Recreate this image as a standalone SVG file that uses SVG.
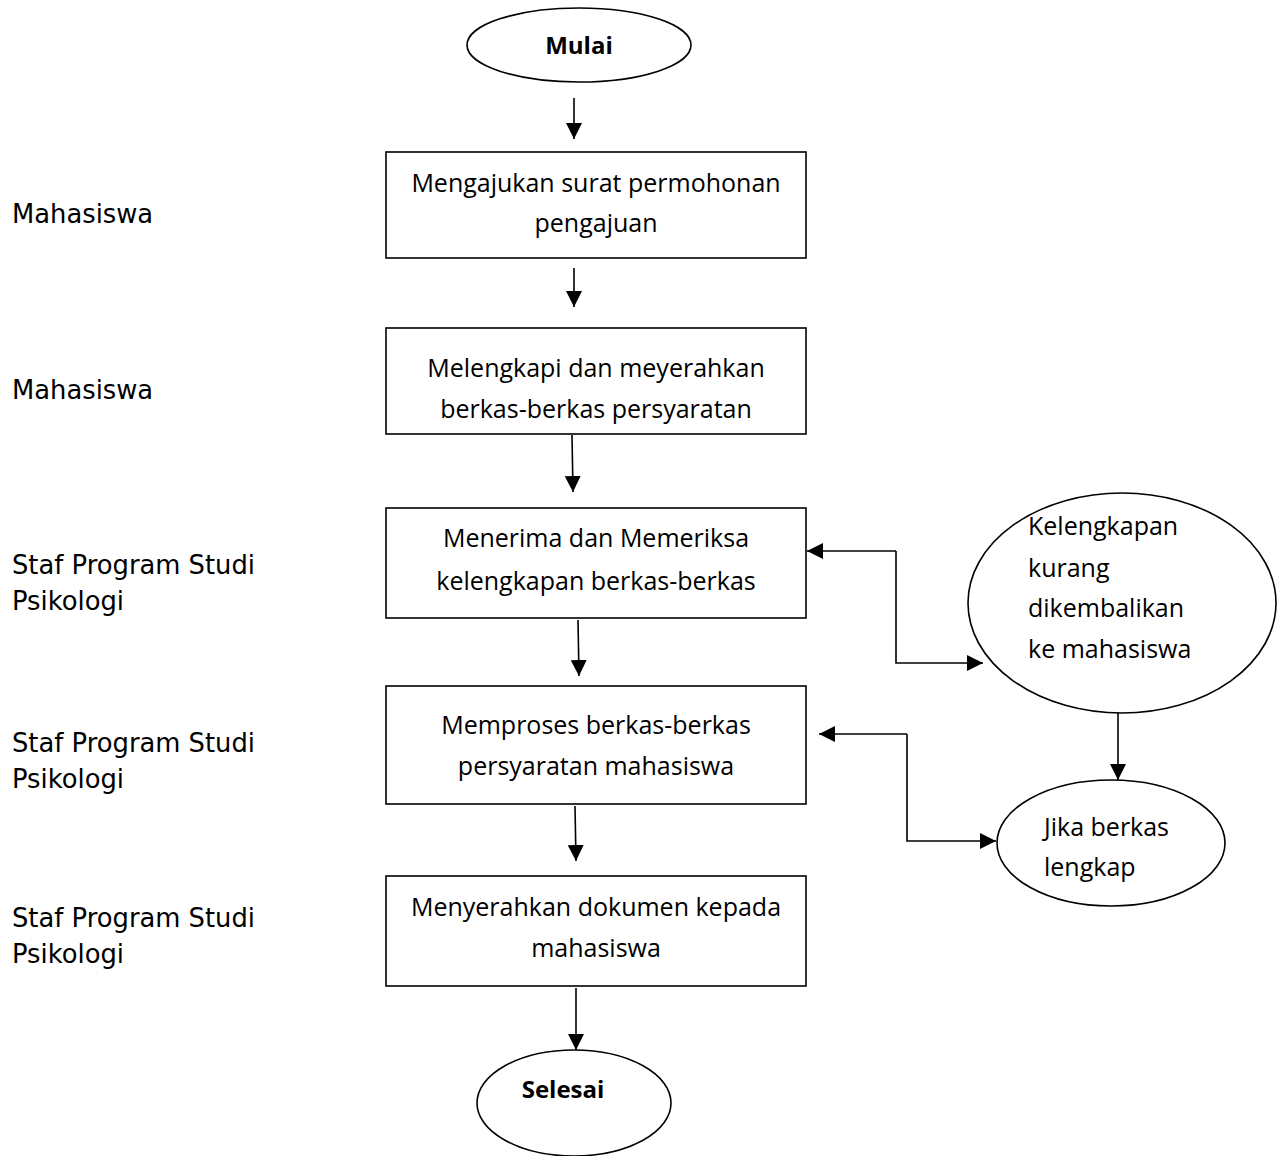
<svg xmlns="http://www.w3.org/2000/svg" width="1284" height="1156" viewBox="0 0 1284 1156">
<style>
.sh{fill:#fff;stroke:#000;stroke-width:1.6}
.t{font-family:"Open Sans","Liberation Sans",sans-serif;font-size:25px;fill:#000}
.tb{font-family:"Open Sans","Liberation Sans",sans-serif;font-size:24px;font-weight:bold;fill:#000}
.lb{font-family:"DejaVu Sans","Liberation Sans",sans-serif;font-size:25.8px;fill:#000}
.c{fill:none;stroke:#000;stroke-width:1.6}
</style>
<defs>
<marker id="ah" viewBox="0 0 10 10" refX="10" refY="5" markerWidth="16" markerHeight="16" markerUnits="userSpaceOnUse" orient="auto">
<path d="M0,0 L10,5 L0,10 z" fill="#000"/>
</marker>
</defs>
<g id="labels">
<text class="lb" x="12" y="223">Mahasiswa</text>
<text class="lb" x="12" y="399">Mahasiswa</text>
<text class="lb" x="12" y="574">Staf Program Studi</text>
<text class="lb" x="12" y="610">Psikologi</text>
<text class="lb" x="12" y="752">Staf Program Studi</text>
<text class="lb" x="12" y="788">Psikologi</text>
<text class="lb" x="12" y="927">Staf Program Studi</text>
<text class="lb" x="12" y="963">Psikologi</text>
</g>
<g id="mulai">
<ellipse class="sh" cx="579" cy="45" rx="112" ry="37"/>
<text class="tb" x="579" y="54" text-anchor="middle">Mulai</text>
</g>
<g id="box1">
<rect class="sh" x="386" y="152" width="420" height="106"/>
<text class="t" x="596" y="192" text-anchor="middle">Mengajukan surat permohonan</text>
<text class="t" x="596" y="232" text-anchor="middle">pengajuan</text>
</g>
<g id="box2">
<rect class="sh" x="386" y="328" width="420" height="106"/>
<text class="t" x="596" y="377" text-anchor="middle">Melengkapi dan meyerahkan</text>
<text class="t" x="596" y="418" text-anchor="middle">berkas-berkas persyaratan</text>
</g>
<g id="box3">
<rect class="sh" x="386" y="508" width="420" height="110"/>
<text class="t" x="596" y="547" text-anchor="middle">Menerima dan Memeriksa</text>
<text class="t" x="596" y="590" text-anchor="middle">kelengkapan berkas-berkas</text>
</g>
<g id="box4">
<rect class="sh" x="386" y="686" width="420" height="118"/>
<text class="t" x="596" y="734" text-anchor="middle">Memproses berkas-berkas</text>
<text class="t" x="596" y="775" text-anchor="middle">persyaratan mahasiswa</text>
</g>
<g id="box5">
<rect class="sh" x="386" y="876" width="420" height="110"/>
<text class="t" x="596" y="916" text-anchor="middle">Menyerahkan dokumen kepada</text>
<text class="t" x="596" y="957" text-anchor="middle">mahasiswa</text>
</g>
<g id="selesai">
<ellipse class="sh" cx="574" cy="1103" rx="97" ry="53"/>
<text class="tb" x="563" y="1098" text-anchor="middle">Selesai</text>
</g>
<g id="kurang">
<ellipse class="sh" cx="1122" cy="603" rx="154" ry="110"/>
<text class="t" x="1028" y="535">Kelengkapan</text>
<text class="t" x="1028" y="577">kurang</text>
<text class="t" x="1028" y="617">dikembalikan</text>
<text class="t" x="1028" y="658">ke mahasiswa</text>
</g>
<g id="lengkap">
<ellipse class="sh" cx="1111" cy="843" rx="114" ry="63"/>
<text class="t" x="1044" y="836">Jika berkas</text>
<text class="t" x="1044" y="876">lengkap</text>
</g>
<g id="connectors">
<line class="c" x1="574" y1="98" x2="574" y2="139" marker-end="url(#ah)"/>
<line class="c" x1="574" y1="268" x2="574" y2="307" marker-end="url(#ah)"/>
<line class="c" x1="572" y1="435" x2="573" y2="492" marker-end="url(#ah)"/>
<line class="c" x1="578" y1="620" x2="579" y2="676" marker-end="url(#ah)"/>
<line class="c" x1="575" y1="806" x2="576" y2="861" marker-end="url(#ah)"/>
<line class="c" x1="576" y1="988" x2="576" y2="1050" marker-end="url(#ah)"/>
<polyline class="c" points="896,551 896,663 983,663" marker-end="url(#ah)"/>
<line class="c" x1="896" y1="551" x2="807" y2="551" marker-end="url(#ah)"/>
<line class="c" x1="1118" y1="713" x2="1118" y2="780" marker-end="url(#ah)"/>
<polyline class="c" points="907,734 907,841 996,841" marker-end="url(#ah)"/>
<line class="c" x1="907" y1="734" x2="819" y2="734" marker-end="url(#ah)"/>
</g>
</svg>
